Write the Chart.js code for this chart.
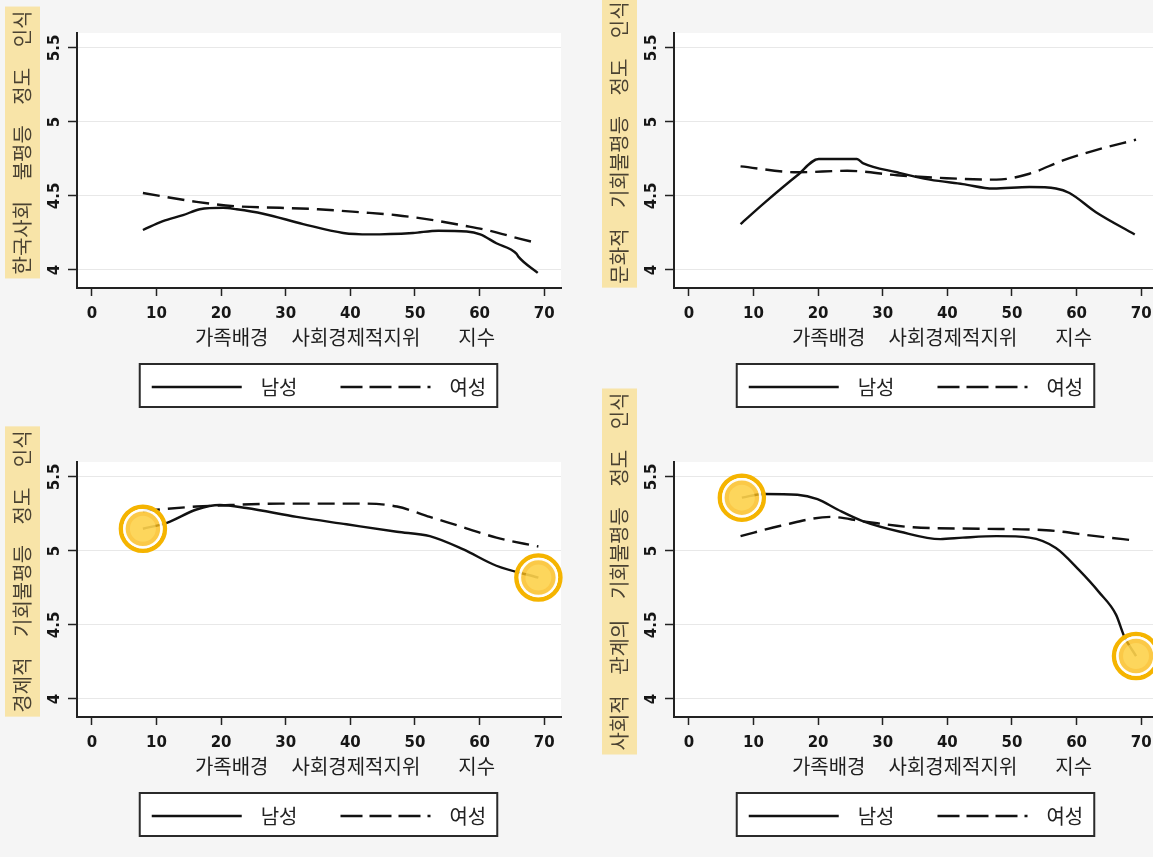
<!DOCTYPE html>
<html lang="ko">
<head>
<meta charset="utf-8">
<script src="https://cdn.jsdelivr.net/npm/chart.js@4.4.1/dist/chart.umd.min.js"></script>
<style>
  html, body { margin: 0; padding: 0; overflow: hidden; }
  body { position: relative; width: 1153px; height: 857px; background: #f5f5f5; }
  .panel { position: absolute; width: 597px; }
</style>
</head>
<body>
<div class="panel" style="left:0;top:0"><canvas id="c1" width="597" height="429"></canvas></div>
<div class="panel" style="left:597px;top:0"><canvas id="c2" width="597" height="429"></canvas></div>
<div class="panel" style="left:0;top:370px"><canvas id="c3" width="597" height="487"></canvas></div>
<div class="panel" style="left:597px;top:370px"><canvas id="c4" width="597" height="487"></canvas></div>
<script>
// --- 축 눈금과 텍스트 ---
const xTicks = [0, 10, 20, 30, 40, 50, 60, 70];
const yTicks = [4, 4.5, 5, 5.5];
const seriesNames = ['남성', '여성'];
const xTitleWords = ['가족배경', '사회경제적지위', '지수'];
const yTitles = [
  '한국사회 불평등 정도 인식',
  '문화적 기회불평등 정도 인식',
  '경제적 기회불평등 정도 인식',
  '사회적 관계의 기회불평등 정도 인식'
];

// --- 패널 1: 한국사회 불평등 ---
const p1MaleX = [7.9, 11.0, 14.1, 16.7, 20.3, 22.4, 26.5, 32.7, 38.9, 43.0, 49.7, 53.6, 58.0, 60.1, 62.6, 65.7, 66.0, 69.0];
const p1MaleY = [4.27, 4.33, 4.37, 4.41, 4.42, 4.41, 4.38, 4.31, 4.25, 4.24, 4.25, 4.265, 4.26, 4.24, 4.18, 4.11, 4.09, 3.98];
const p1FemaleX = [7.9, 16.2, 22.4, 29.1, 35.0, 41.5, 47.2, 52.3, 57.5, 61.1, 66.3, 69.1];
const p1FemaleY = [4.52, 4.46, 4.43, 4.42, 4.41, 4.39, 4.37, 4.34, 4.30, 4.27, 4.21, 4.18];

// --- 패널 2: 문화적 기회불평등 ---
const p2MaleX = [8.0, 11.6, 16.8, 20.1, 21.4, 26.0, 27.0, 32.2, 37.3, 42.4, 47.1, 52.7, 56.8, 58.9, 63.0, 69.0];
const p2MaleY = [4.31, 4.45, 4.64, 4.75, 4.75, 4.75, 4.72, 4.66, 4.61, 4.58, 4.55, 4.56, 4.55, 4.52, 4.39, 4.24];
const p2FemaleX = [8.0, 16.8, 24.5, 32.2, 39.9, 47.6, 52.7, 57.9, 63.0, 69.2];
const p2FemaleY = [4.70, 4.66, 4.67, 4.64, 4.62, 4.61, 4.65, 4.74, 4.81, 4.88];

// --- 패널 3: 경제적 기회불평등 ---
const p3MaleX = [7.9, 11.6, 16.2, 19.8, 23.9, 31.7, 39.4, 47.2, 52.3, 57.5, 62.6, 69.1];
const p3MaleY = [5.15, 5.19, 5.28, 5.31, 5.29, 5.23, 5.18, 5.13, 5.10, 5.01, 4.90, 4.82];
const p3FemaleX = [7.9, 16.2, 21.4, 29.1, 36.8, 42.0, 47.2, 52.3, 57.5, 62.6, 69.1];
const p3FemaleY = [5.27, 5.30, 5.31, 5.32, 5.32, 5.32, 5.30, 5.23, 5.16, 5.09, 5.03];

// --- 패널 4: 사회적 관계의 기회불평등 ---
const p4MaleX = [8.2, 11.6, 16.8, 19.9, 23.0, 27.0, 32.7, 38.9, 42.4, 47.6, 52.7, 56.8, 60.4, 63.5, 66.1, 67.4, 69.2];
const p4MaleY = [5.36, 5.385, 5.38, 5.35, 5.28, 5.20, 5.13, 5.08, 5.09, 5.10, 5.09, 5.02, 4.87, 4.72, 4.57, 4.42, 4.29];
const p4FemaleX = [8.0, 14.2, 21.9, 27.0, 34.7, 45.0, 55.3, 63.0, 69.2];
const p4FemaleY = [5.10, 5.17, 5.23, 5.20, 5.16, 5.15, 5.14, 5.10, 5.07];

const KR_FONT = '"Noto Sans CJK KR", "Noto Sans", sans-serif';
const NUM_FONT = '"DejaVu Sans", sans-serif';

function toPoints(xs, ys) {
  return xs.map((x, i) => ({ x: x, y: ys[i] }));
}

// 그림 영역 배경, 범례 테두리, 축 제목(노란 강조 포함)
const panelDecor = {
  id: 'panelDecor',
  beforeDraw(chart, args, opts) {
    const { ctx, chartArea: a } = chart;
    ctx.save();
    ctx.fillStyle = '#ffffff';
    ctx.fillRect(a.left, a.top, a.right - a.left, a.bottom - a.top);

    // 범례 상자
    const hb = chart.legend.legendHitBoxes;
    if (hb && hb.length) {
      const last = hb[hb.length - 1];
      const l = hb[0].left - 12, r = last.left + last.width + 11;
      const t = hb[0].top - 13, b = hb[0].top + hb[0].height + 10;
      ctx.fillStyle = '#ffffff';
      ctx.fillRect(l, t, r - l, b - t);
      ctx.strokeStyle = '#2a2a2a';
      ctx.lineWidth = 2;
      ctx.strokeRect(l, t, r - l, b - t);
    }

    // y축 제목 (세로, 아래에서 위로)
    ctx.font = '20px ' + KR_FONT;
    const words = opts.yTitle.split(' ');
    const gap = 20.5;
    const widths = words.map(w => ctx.measureText(w).width);
    const total = widths.reduce((s, w) => s + w, 0) + gap * (words.length - 1);
    const cx = 22, cy = (a.top + a.bottom) / 2 - 18;
    ctx.fillStyle = '#f8e4a8';
    ctx.fillRect(cx - 17, cy - total / 2 - 4, 35, total + 8);
    ctx.translate(cx, cy);
    ctx.rotate(-Math.PI / 2);
    ctx.fillStyle = '#4a4232';
    ctx.textBaseline = 'middle';
    ctx.textAlign = 'left';
    let pos = -total / 2;
    words.forEach((w, i) => {
      ctx.fillText(w, pos, 0);
      pos += widths[i] + gap;
    });
    ctx.setTransform(1, 0, 0, 1, 0, 0);

    // x축 제목
    const xGaps = [23, 38];
    const xw = xTitleWords.map(w => ctx.measureText(w).width);
    const xTotal = xw.reduce((s, w) => s + w, 0) + xGaps[0] + xGaps[1];
    let xp = (a.left + a.right) / 2 + 26 - xTotal / 2;
    ctx.fillStyle = '#1e1e1e';
    ctx.textBaseline = 'middle';
    xTitleWords.forEach((w, i) => {
      ctx.fillText(w, xp, a.bottom + 49);
      xp += xw[i] + (xGaps[i] || 0);
    });
    ctx.restore();
  }
};

function makePanel(id, yTitle, maleX, maleY, femaleX, femaleY, highlight, padTop, padBottom) {
  const datasets = [
    {
      label: seriesNames[0],
      data: toPoints(maleX, maleY),
      borderColor: '#111111',
      borderWidth: 2.4,
      pointRadius: 0,
      fill: false,
      cubicInterpolationMode: 'monotone'
    },
    {
      label: seriesNames[1],
      data: toPoints(femaleX, femaleY),
      borderColor: '#111111',
      borderWidth: 2.4,
      borderDash: [17, 8],
      pointRadius: 0,
      fill: false,
      cubicInterpolationMode: 'monotone'
    }
  ];

  if (highlight) {
    // 남성 곡선의 양 끝점을 노란 원으로 강조
    const ends = [
      { x: maleX[0], y: maleY[0] },
      { x: maleX[maleX.length - 1], y: maleY[maleY.length - 1] }
    ];
    datasets.push(
      { data: ends, showLine: false, clip: false, order: -1,
        pointRadius: 22, pointBorderWidth: 4.5, pointBorderColor: '#f5b400',
        pointBackgroundColor: 'rgba(0,0,0,0)' },
      { data: ends, showLine: false, clip: false, order: -2,
        pointRadius: 18.5, pointBorderWidth: 2.5, pointBorderColor: 'rgba(255,255,255,0.95)',
        pointBackgroundColor: 'rgba(250,188,25,0.8)' },
      { data: ends, showLine: false, clip: false, order: -3,
        pointRadius: 13, pointBorderWidth: 0,
        pointBackgroundColor: 'rgba(255,224,110,0.55)' }
    );
  }

  return new Chart(document.getElementById(id), {
    type: 'line',
    data: { datasets: datasets },
    options: {
      responsive: false,
      animation: false,
      events: [],
      layout: { padding: { left: 0, top: padTop, right: 36, bottom: padBottom } },
      scales: {
        x: {
          type: 'linear',
          min: -2.3,
          max: 72.6,
          afterBuildTicks: s => { s.ticks = xTicks.map(v => ({ value: v })); },
          afterFit: s => { s.height = 46; },
          grid: { drawOnChartArea: false, tickLength: 8, tickColor: '#222', tickWidth: 1.5 },
          border: { color: '#222', width: 2 },
          ticks: { font: { family: NUM_FONT, size: 15, weight: 'bold' }, color: '#161616', padding: 9,
                   maxRotation: 0, autoSkip: false, callback: v => String(v) }
        },
        y: {
          min: 3.878,
          max: 5.601,
          afterBuildTicks: s => { s.ticks = yTicks.map(v => ({ value: v })); },
          afterFit: s => { s.width = 77; },
          grid: { color: '#e8e8e8', lineWidth: 1, tickLength: 9, tickColor: '#222', tickWidth: 1.5 },
          border: { color: '#222', width: 2 },
          ticks: { font: { family: NUM_FONT, size: 15, weight: 'bold' }, color: '#161616', padding: 0,
                   minRotation: 90, maxRotation: 90, crossAlign: 'center', callback: v => String(v) }
        }
      },
      plugins: {
        tooltip: { enabled: false },
        panelDecor: { yTitle: yTitle },
        legend: {
          position: 'bottom',
          fullSize: false,
          labels: {
            usePointStyle: true,
            pointStyleWidth: 90,
            padding: 43,
            color: '#222',
            font: { family: KR_FONT, size: 20 },
            generateLabels: chart => chart.data.datasets.slice(0, 2).map((ds, i) => ({
              text: '  ' + ds.label,
              datasetIndex: i,
              hidden: false,
              fillStyle: 'rgba(0,0,0,0)',
              strokeStyle: '#111111',
              lineWidth: 2.4,
              lineDash: i === 0 ? [] : [22, 7],
              lineDashOffset: 0,
              pointStyle: 'line',
              rotation: 0,
              fontColor: '#222'
            }))
          }
        }
      }
    },
    plugins: [panelDecor]
  });
}

makePanel('c1', yTitles[0], p1MaleX, p1MaleY, p1FemaleX, p1FemaleY, false, 33, 22);
makePanel('c2', yTitles[1], p2MaleX, p2MaleY, p2FemaleX, p2FemaleY, false, 33, 22);
makePanel('c3', yTitles[2], p3MaleX, p3MaleY, p3FemaleX, p3FemaleY, true, 92, 21);
makePanel('c4', yTitles[3], p4MaleX, p4MaleY, p4FemaleX, p4FemaleY, true, 92, 21);
</script>
</body>
</html>
